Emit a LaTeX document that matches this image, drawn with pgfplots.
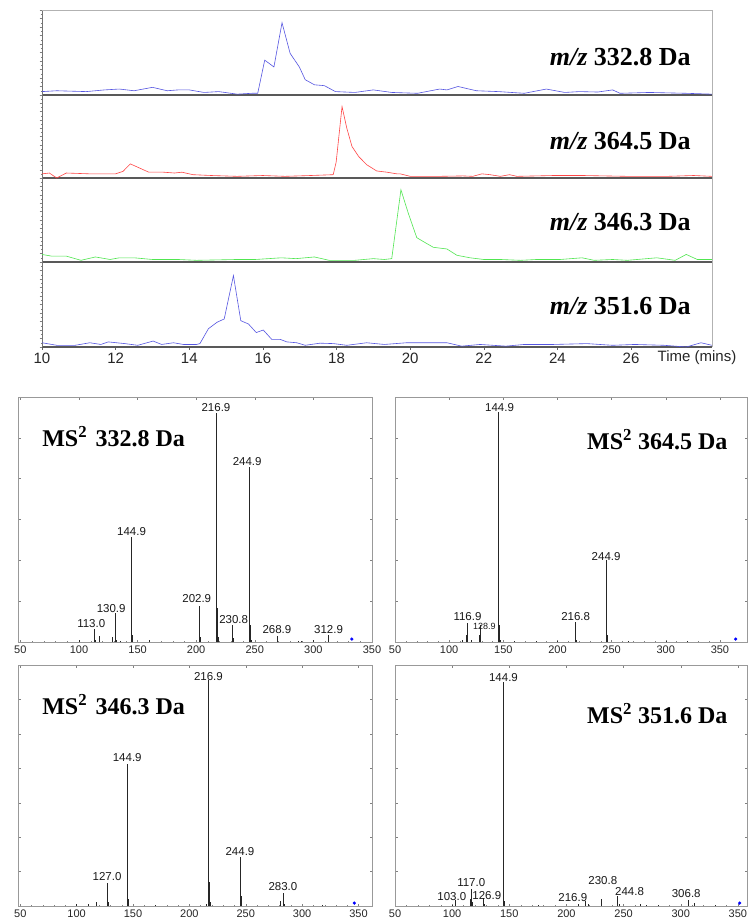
\documentclass[border=0pt]{standalone}
\usepackage{pgfplots}
\pgfplotsset{compat=1.18}
\usepackage{fontspec}
\setmainfont{Liberation Serif}
\newfontfamily\arial{Liberation Sans}
\definecolor{cblue}{RGB}{85,85,225}
\definecolor{cred}{RGB}{255,70,70}
\definecolor{cgreen}{RGB}{80,230,80}
\pgfplotsset{
 chrom/.style={
  scale only axis, anchor=north west, width=670pt,
  xmin=10, xmax=28.2, ymin=0, ymax=1,
  axis x line*=bottom, axis y line*=left,
  x axis line style={black!65, line width=1.2pt},
  y axis line style={black!55, line width=0.5pt},
  xtick=\empty,
  ytick={0,0.1,...,1}, yticklabels={}, minor y tick num=1,
  tick align=outside,
  major tick length=2.5pt, minor tick length=1.2pt,
  y tick style={black!50, line width=0.3pt},
  /pgf/number format/assume math mode=true,
  clip=false,
 },
 ms/.style={
  scale only axis, anchor=north west, ymin=0, ymax=1,
  axis line style={black!40, line width=0.5pt},
  xtick={50,100,...,350}, minor x tick num=4,
  yticklabels={},
  major tick length=2.5pt, minor tick length=1.3pt,
  tick style={black!50, line width=0.3pt},
  /pgf/number format/assume math mode=true,
  xticklabel style={font=\arial\fontsize{11}{13}\selectfont, text=black!85},
  clip=false,
 },
 stick/.style={ycomb, black!85, line width=0.55pt, mark=none},
 dot/.style={only marks, mark=*, mark size=1.4pt, blue},
}
\tikzset{
 chromlab/.style={font=\fontsize{26}{28}\selectfont\bfseries, anchor=center},
 pk/.style={font=\arial\fontsize{11.5}{13}\selectfont, text=black!90, inner sep=0pt, anchor=center},
 ttl/.style={font=\fontsize{24}{26}\selectfont\bfseries, anchor=center},
}
\begin{document}
\begin{tikzpicture}
\useasboundingbox (0pt,0pt) rectangle (747pt,-920pt);
\fill[white] (0pt,0pt) rectangle (747pt,-920pt);

% ---------------- chromatograms ----------------
\begin{axis}[chrom, at={(42pt,-10pt)}, height=85pt]
\addplot[cblue, line width=0.6pt] coordinates {
(10,0.04)(10.4,0.05)(10.8,0.045)(11.2,0.04)(11.7,0.06)(12.1,0.07)(12.5,0.05)(13.0,0.09)(13.4,0.05)(13.7,0.06)(14.0,0.06)(14.4,0.03)(14.8,0.04)(15.3,0.01)(15.7,0.02)(15.86,0.02)(16.05,0.41)(16.30,0.33)(16.52,0.85)(16.74,0.49)(16.99,0.33)(17.15,0.18)(17.40,0.12)(17.67,0.11)(17.97,0.04)(18.5,0.03)(19.0,0.06)(19.5,0.03)(20.2,0.02)(20.8,0.07)(21.0,0.06)(21.3,0.10)(21.8,0.05)(22.4,0.04)(23.1,0.02)(23.7,0.07)(24.2,0.03)(24.6,0.04)(25.1,0.035)(25.5,0.06)(25.7,0.02)(26.5,0.03)(27.0,0.025)(27.5,0.02)(28.2,0.01)};
\draw[black!30] (rel axis cs:0,1) -- (rel axis cs:1,1) -- (rel axis cs:1,0);
\node[chromlab] at (rel axis cs:0.863,0.45) {\textit{m/z} 332.8 Da};
\end{axis}

\begin{axis}[chrom, at={(42pt,-95pt)}, height=83pt]
\addplot[cred, line width=0.6pt] coordinates {
(10,0.05)(10.2,0.06)(10.4,0.0)(10.66,0.06)(11.3,0.05)(12.0,0.05)(12.2,0.08)(12.4,0.17)(12.65,0.12)(12.9,0.07)(13.3,0.07)(13.6,0.06)(13.8,0.07)(14.1,0.04)(14.6,0.03)(15.3,0.02)(16.0,0.03)(16.6,0.02)(17.3,0.03)(17.91,0.04)(17.99,0.19)(18.15,0.86)(18.28,0.60)(18.42,0.38)(18.6,0.26)(18.82,0.16)(19.09,0.085)(19.37,0.07)(19.64,0.05)(19.73,0.05)(20.0,0.02)(20.8,0.02)(21.44,0.025)(21.7,0.02)(21.95,0.05)(22.17,0.04)(22.45,0.02)(22.7,0.04)(22.9,0.02)(23.9,0.03)(24.7,0.03)(25.9,0.02)(27.0,0.02)(27.7,0.03)(28.2,0.02)};
\draw[black!30] (rel axis cs:1,1) -- (rel axis cs:1,0);
\node[chromlab] at (rel axis cs:0.863,0.45) {\textit{m/z} 364.5 Da};
\end{axis}

\begin{axis}[chrom, at={(42pt,-178pt)}, height=84pt]
\addplot[cgreen, line width=0.6pt] coordinates {
(10,0.09)(10.26,0.07)(10.66,0.07)(11.06,0.02)(11.45,0.06)(11.85,0.03)(12.1,0.05)(12.5,0.05)(13.0,0.03)(13.7,0.03)(14.2,0.02)(15.3,0.03)(15.8,0.03)(16.5,0.05)(16.9,0.04)(17.4,0.06)(17.8,0.02)(18.5,0.02)(19.0,0.04)(19.3,0.03)(19.5,0.04)(19.75,0.86)(19.95,0.58)(20.18,0.29)(20.41,0.23)(20.63,0.175)(21.0,0.155)(21.27,0.08)(21.63,0.05)(22.0,0.03)(22.45,0.03)(23.0,0.02)(23.44,0.03)(24.08,0.03)(24.67,0.05)(25.0,0.02)(25.5,0.03)(25.9,0.02)(26.7,0.05)(27.2,0.02)(27.5,0.09)(27.8,0.03)(28.2,0.03)};
\draw[black!30] (rel axis cs:1,1) -- (rel axis cs:1,0);
\node[chromlab] at (rel axis cs:0.863,0.47) {\textit{m/z} 346.3 Da};
\end{axis}

\begin{axis}[chrom, at={(42pt,-262pt)}, height=85pt,
  xtick={10,12,...,26}, minor x tick num=1,
  x tick style={black!60, line width=0.4pt},
  xticklabel style={font=\arial\fontsize{15}{17}\selectfont, text=black!85}]
\addplot[cblue, line width=0.6pt] coordinates {
(10,0.05)(10.4,0.02)(10.9,0.02)(11.3,0.05)(11.6,0.03)(11.8,0.06)(12.25,0.04)(12.6,0.02)(13.02,0.07)(13.25,0.03)(13.57,0.05)(13.84,0.03)(14.2,0.03)(14.29,0.04)(14.52,0.215)(14.75,0.29)(14.95,0.33)(15.2,0.84)(15.40,0.31)(15.61,0.27)(15.82,0.17)(16.01,0.20)(16.24,0.09)(16.47,0.09)(16.65,0.06)(16.92,0.05)(17.15,0.02)(17.55,0.045)(17.92,0.04)(18.28,0.02)(18.82,0.05)(19.3,0.03)(19.9,0.05)(20.6,0.05)(21.0,0.05)(21.4,0.01)(21.9,0.03)(22.6,0.01)(23.1,0.03)(23.9,0.03)(24.8,0.04)(25.5,0.02)(26.1,0.03)(26.9,0.02)(27.5,0.0)(27.9,0.05)(28.2,0.02)};
\draw[black!30] (rel axis cs:1,1) -- (rel axis cs:1,0);
\node[chromlab] at (rel axis cs:0.863,0.48) {\textit{m/z} 351.6 Da};
\end{axis}
\node[font=\arial\fontsize{15}{17}\selectfont, text=black!85] at (697pt,-358pt) {Time (mins)};

% ---------------- MS2 spectra ----------------
\begin{axis}[ms, at={(18pt,-397pt)}, width=354pt, height=245pt, xmin=48, xmax=350,
  ytick={0,0.1667,...,1}]
\addplot[stick] coordinates {
(100,0.008)(113.0,0.054)(114,0.01)(117.0,0.024)(128.0,0.021)(130.9,0.12)(132,0.01)(135,0.006)(144.9,0.43)(145.9,0.03)(160,0.008)(202.9,0.146)(203.9,0.02)(216.9,0.936)(217.9,0.137)(218.9,0.02)(230.8,0.071)(231.8,0.015)(244.9,0.715)(245.9,0.07)(246.9,0.01)(268.9,0.024)(287,0.005)(290,0.005)(300,0.008)(312.9,0.027)};
\addplot[dot] coordinates {(332.8,0.012)};
\node[pk] at (axis cs:216.9,0.956) {216.9};
\node[pk] at (axis cs:243.5,0.738) {244.9};
\node[pk] at (axis cs:144.9,0.452) {144.9};
\node[pk] at (axis cs:200.5,0.176) {202.9};
\node[pk] at (axis cs:127.5,0.135) {130.9};
\node[pk] at (axis cs:110.5,0.074) {113.0};
\node[pk] at (axis cs:232,0.092) {230.8};
\node[pk] at (axis cs:268.9,0.051) {268.9};
\node[pk] at (axis cs:312.9,0.051) {312.9};
\node[ttl] at (rel axis cs:0.27,0.84) {MS\textsuperscript{2}\hspace{0.35em}332.8 Da};
\end{axis}

\begin{axis}[ms, at={(395pt,-397pt)}, width=352pt, height=245pt, xmin=50, xmax=375,
  ytick={0,0.1667,...,1}]
\addplot[stick] coordinates {
(112,0.01)(115.9,0.03)(116.9,0.076)(120,0.01)(127.9,0.03)(128.9,0.07)(144.9,0.937)(145.9,0.07)(147,0.01)(160,0.005)(180,0.005)(200,0.005)(216.8,0.083)(217.8,0.01)(244.9,0.333)(245.9,0.03)(265,0.005)(300,0.005)(320,0.005)};
\addplot[dot] coordinates {(364.5,0.012)};
\node[pk] at (axis cs:146.5,0.959) {144.9};
\node[pk] at (axis cs:244.9,0.35) {244.9};
\node[pk] at (axis cs:216.8,0.104) {216.8};
\node[pk] at (axis cs:116.9,0.104) {116.9};
\node[pk, font=\arial\fontsize{9}{10}\selectfont] at (axis cs:132.5,0.064) {128.9};
\node[ttl] at (rel axis cs:0.745,0.825) {MS\textsuperscript{2}\hspace{0.25em}364.5 Da};
\end{axis}

\begin{axis}[ms, at={(18pt,-665pt)}, width=354pt, height=241pt, xmin=48, xmax=362,
  ytick={0,0.1429,...,1}]
\addplot[stick] coordinates {
(100,0.01)(110,0.008)(117,0.015)(127.0,0.094)(128,0.015)(144.9,0.588)(145.9,0.03)(170,0.005)(215,0.01)(216.9,0.938)(217.9,0.10)(218.9,0.015)(244.9,0.205)(245.9,0.04)(281,0.02)(283.0,0.055)(284,0.01)(318,0.005)};
\addplot[dot] coordinates {(346.3,0.012)};
\node[pk] at (axis cs:216.9,0.954) {216.9};
\node[pk] at (axis cs:144.9,0.617) {144.9};
\node[pk] at (axis cs:244.9,0.225) {244.9};
\node[pk] at (axis cs:127.0,0.122) {127.0};
\node[pk] at (axis cs:283.0,0.08) {283.0};
\node[ttl] at (rel axis cs:0.27,0.835) {MS\textsuperscript{2}\hspace{0.35em}346.3 Da};
\end{axis}

\begin{axis}[ms, at={(395pt,-665pt)}, width=352pt, height=241pt, xmin=50, xmax=358,
  ytick={0,0.1429,...,1}]
\addplot[stick] coordinates {
(100,0.005)(103.0,0.026)(115.9,0.03)(117.0,0.071)(118,0.015)(126.9,0.034)(128,0.01)(144.9,0.93)(145.9,0.02)(175,0.005)(210,0.008)(216.9,0.02)(219,0.008)(230.8,0.03)(244.8,0.04)(246,0.008)(265,0.008)(270,0.005)(280,0.005)(306.8,0.026)(312,0.012)(330,0.004)};
\addplot[dot] coordinates {(351.6,0.012)};
\node[pk] at (axis cs:144.9,0.95) {144.9};
\node[pk] at (axis cs:116.7,0.099) {117.0};
\node[pk] at (axis cs:99.7,0.039) {103.0};
\node[pk] at (axis cs:130.3,0.044) {126.9};
\node[pk] at (axis cs:205.6,0.034) {216.9};
\node[pk] at (axis cs:231.8,0.106) {230.8};
\node[pk] at (axis cs:255.2,0.06) {244.8};
\node[pk] at (axis cs:304.8,0.053) {306.8};
\node[ttl] at (rel axis cs:0.745,0.8) {MS\textsuperscript{2}\hspace{0.25em}351.6 Da};
\end{axis}
\end{tikzpicture}
\end{document}
